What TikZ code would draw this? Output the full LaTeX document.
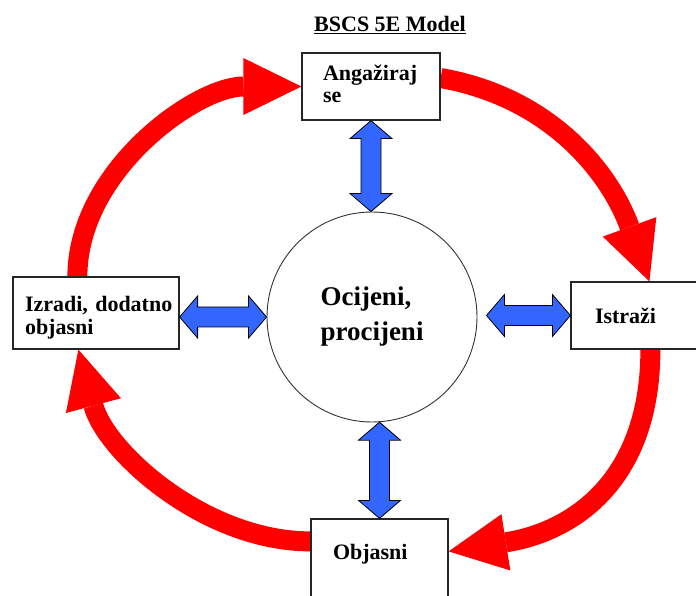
\documentclass[tikz,border=0pt]{standalone}
\usepackage{fontspec}
\setmainfont{Liberation Serif}[BoldFont={Liberation Serif Bold}]
\usetikzlibrary{arrows.meta,calc,backgrounds}
\definecolor{arrblue}{RGB}{51,102,255}
\definecolor{arrred}{RGB}{255,0,0}
\newcommand\boxfont{\rmfamily\bfseries\fontsize{22}{22.5}\selectfont}
\newcommand\bigfont{\rmfamily\bfseries\fontsize{27}{35}\selectfont}
\newcommand\titlefont{\rmfamily\bfseries\fontsize{22}{24}\selectfont}
\newcommand\vbiarrow[2]{\draw[bluearr] (#1) -- ++(21,-18) -- ++(-11,0) -- ($(#2)+(10,18)$) -- ++(11,0) -- (#2) -- ++(-21,18) -- ++(11,0) -- ($(#1)+(-10,-18)$) -- ++(-11,0) -- cycle;}
\newcommand\hbiarrow[2]{\draw[bluearr] (#1) -- ++(18,21) -- ++(0,-11) -- ($(#2)+(-18,10)$) -- ++(0,11) -- (#2) -- ++(-18,-21) -- ++(0,11) -- ($(#1)+(18,-10)$) -- ++(0,-11) -- cycle;}
\begin{document}
\begin{tikzpicture}[x=1pt,y=1pt,
  box/.style={draw=black!85, line width=1.2pt, fill=white, inner ysep=0pt, align=left, font=\boxfont},
  redarr/.style={draw=arrred, line width=20pt, -{Triangle[length=58pt,width=57pt,line width=0pt]}},
  bluearr/.style={draw=black, line width=0.8pt, fill=arrblue, line join=miter}]
\useasboundingbox (0,0) rectangle (696,595);
\clip (0,0) rectangle (696,595);
% title
\node[font=\titlefont, anchor=base, inner sep=0pt] (title) at (390,563) {\underline{BSCS 5E Model}};
% boxes
\node[box, text width=96pt, inner xsep=21pt, minimum height=67pt] (top) at (371,508.5) {Angažiraj\\se\rule[-5.5pt]{0pt}{1pt}};
\node[box, text width=92pt, inner xsep=24pt, minimum height=67pt] (rgt) at (641,279.5) {Istraži};
\node[box, text width=93pt, inner xsep=22pt, minimum height=81pt, text height=8pt, text depth=8pt] (bot) at (379.5,35.5) {Objasni};
\node[box, text width=142pt, inner xsep=12pt, minimum height=72pt] (lft) at (96,282) {\rule{0pt}{25pt}\mbox{Izradi, dodatno}\\objasni};
% centre circle
\node[circle, draw=black!80, line width=0.9pt, fill=white, minimum size=210pt, inner sep=0pt, align=left, font=\bigfont] (c) at (372,278) {Ocijeni,\\procijeni};
% blue double arrows
\coordinate (tA) at (top.south |- c.north);
\vbiarrow{top.south}{tA}
\coordinate (bA) at (bot.north |- c.-86);
\vbiarrow{bA}{bot.north}
\coordinate (lA) at (lft.east |- c.west);
\hbiarrow{lA}{c.west}
\coordinate (rA) at ($(c.east |- rgt.west)+(9,0)$);
\hbiarrow{rA}{rgt.west}
% red cycle arrows
\coordinate (r1s) at ($(lft.north west)+(65,0)$);
\coordinate (r2s) at ($(top.east)+(0,8.5)$);
\coordinate (r2e) at ($(rgt.north west)+(79,0)$);
\coordinate (r3s) at ($(rgt.south west)+(80,0)$);
\coordinate (r3e) at ($(bot.north east)+(0,-33)$);
\coordinate (r4s) at ($(bot.north west)+(0,-23)$);
\coordinate (r4e) at ($(lft.south west)+(66,0)$);
\begin{pgfonlayer}{background}
\draw[redarr] (r1s) to[out=90,in=180,looseness=0.92] (top.west);
\draw[redarr] (r2s) to[out=-10,in=110] (r2e);
\draw[redarr] (r3s) to[out=-90,in=9,looseness=1.15] (r3e);
\draw[redarr] (r4s) to[out=180,in=-75,looseness=0.9] (r4e);
\end{pgfonlayer}
\end{tikzpicture}
\end{document}
